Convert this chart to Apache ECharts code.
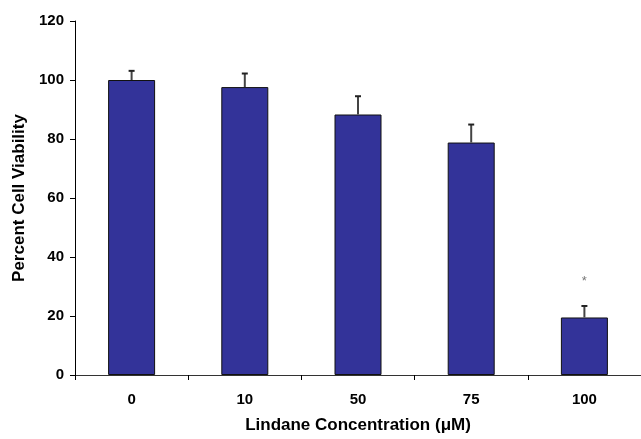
<!DOCTYPE html>
<html>
<head>
<meta charset="utf-8">
<script src="https://cdn.jsdelivr.net/npm/echarts@6/dist/echarts.min.js"></script>
<style>
html,body{margin:0;padding:0;background:#fff;}
#chart{width:641px;height:439px;}
</style>
</head>
<body>
<div id="chart"></div>
<script>
var categories = ['0', '10', '50', '75', '100'];
var viability = [100, 97.6, 88.3, 78.8, 19.5];
var errorUpper = [3.1, 4.6, 6.2, 6.1, 3.9];
var significance = ['', '', '', '', '*'];
var yTicks = [0, 20, 40, 60, 80, 100, 120];

var chart = echarts.init(document.getElementById('chart'));
var font = 'Liberation Sans, Arial, sans-serif';
var errData = categories.map(function (c, i) {
  return [i, viability[i], viability[i] + errorUpper[i], significance[i]];
});

chart.setOption({
  animation: false,
  backgroundColor: '#fff',
  grid: { left: 75, top: 21, width: 575, height: 356 },
  xAxis: {
    type: 'category',
    data: categories,
    name: 'Lindane Concentration (\u03bcM)',
    nameLocation: 'middle',
    nameGap: 42,
    nameTextStyle: { fontFamily: font, fontWeight: 'bold', fontSize: 17, color: '#000' },
    axisLine: { lineStyle: { color: '#333', width: 1 } },
    axisTick: { show: true, inside: false, length: 5, lineStyle: { color: '#000' } },
    axisLabel: { fontFamily: font, fontWeight: 'bold', fontSize: 15, color: '#000', margin: 17 },
    splitLine: { show: false }
  },
  yAxis: {
    type: 'value',
    min: yTicks[0],
    max: yTicks[yTicks.length - 1],
    interval: yTicks[1] - yTicks[0],
    name: 'Percent Cell Viability',
    nameLocation: 'middle',
    nameGap: 45,
    nameTextStyle: { fontFamily: font, fontWeight: 'bold', fontSize: 17, color: '#000' },
    axisLine: { show: true, lineStyle: { color: '#000', width: 1 } },
    axisTick: { show: true, inside: false, length: 5, lineStyle: { color: '#000' } },
    axisLabel: { fontFamily: font, fontWeight: 'bold', fontSize: 15, color: '#000', margin: 11 },
    splitLine: { show: false }
  },
  series: [
    {
      type: 'bar',
      data: viability,
      barWidth: 47,
      itemStyle: { color: '#333399', borderColor: '#111', borderWidth: 1 },
      z: 2
    },
    {
      type: 'custom',
      data: errData,
      z: 3,
      renderItem: function (params, api) {
        var x = api.value(0);
        var base = api.coord([x, api.value(1)]);
        var top = api.coord([x, api.value(2)]);
        var children = [
          { type: 'line', shape: { x1: base[0], y1: base[1], x2: top[0], y2: top[1] }, style: { stroke: '#444', lineWidth: 2 } },
          { type: 'line', shape: { x1: top[0] - 3, y1: top[1], x2: top[0] + 3, y2: top[1] }, style: { stroke: '#222', lineWidth: 2 } }
        ];
        var sig = significance[params.dataIndex];
        if (sig) {
          children.push({ type: 'text', x: top[0], y: top[1] - 25, style: { text: sig, fill: '#777', font: '13px ' + font, align: 'center', verticalAlign: 'middle' } });
        }
        return { type: 'group', children: children };
      }
    }
  ]
});
</script>
</body>
</html>
